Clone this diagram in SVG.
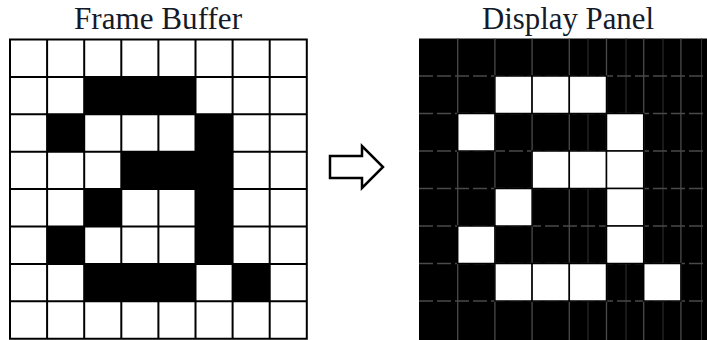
<svg xmlns="http://www.w3.org/2000/svg" width="707" height="340" viewBox="0 0 707 340">
<style>
.title{font-family:"Liberation Serif","Times New Roman",serif;font-size:31px;fill:#141a2a;text-anchor:middle}
.blk{fill:#000}
.wht{fill:#fff;stroke:#000;stroke-width:1.5}
.grid{stroke:#000;stroke-width:2;fill:none}
.gv{stroke:#4a4a4a;stroke-width:1.3}
.gh{stroke:#4a4a4a;stroke-width:1.3;stroke-dasharray:14 4}
.gm{stroke:#333;stroke-width:1}
</style>
<rect width="707" height="340" fill="#fff"/>
<g id="title-frame-buffer"><text class="title" x="158" y="29" textLength="168" lengthAdjust="spacingAndGlyphs">Frame Buffer</text></g>
<g id="title-display-panel"><text class="title" x="568" y="29" textLength="172" lengthAdjust="spacingAndGlyphs">Display Panel</text></g>

<g id="frame-buffer">
<rect class="blk" x="84.2" y="76.9" width="111.3" height="37.4"/>
<rect class="blk" x="47.1" y="114.3" width="37.1" height="37.4"/>
<rect class="blk" x="195.5" y="114.3" width="37.1" height="37.4"/>
<rect class="blk" x="121.3" y="151.7" width="111.3" height="37.4"/>
<rect class="blk" x="84.2" y="189.1" width="37.1" height="37.4"/>
<rect class="blk" x="195.5" y="189.1" width="37.1" height="37.4"/>
<rect class="blk" x="47.1" y="226.5" width="37.1" height="37.4"/>
<rect class="blk" x="195.5" y="226.5" width="37.1" height="37.4"/>
<rect class="blk" x="84.2" y="263.9" width="111.3" height="37.4"/>
<rect class="blk" x="232.6" y="263.9" width="37.1" height="37.4"/>
<path class="grid" d="M10 39.5H306.8V338.7H10Z M47.1 39.5V338.7 M84.2 39.5V338.7 M121.3 39.5V338.7 M158.4 39.5V338.7 M195.5 39.5V338.7 M232.6 39.5V338.7 M269.7 39.5V338.7 M10 76.9H306.8 M10 114.3H306.8 M10 151.7H306.8 M10 189.1H306.8 M10 226.5H306.8 M10 263.9H306.8 M10 301.3H306.8"/>
</g>

<g id="connectors">
<polygon points="330,156 362,156 362,146 383,167 362,188 362,178 330,178" fill="#fff" stroke="#000" stroke-width="2.5" stroke-linejoin="miter"/>
</g>

<g id="display-panel">
<rect class="blk" x="419" y="38.5" width="288" height="301.5"/>
<path class="gv" d="M457.7 38.5V340 M494.9 38.5V340 M532.1 38.5V340 M569.3 38.5V340 M606.5 38.5V340 M643.7 38.5V340 M680.9 38.5V340"/>
<path class="gm" d="M588 38.5V340 M626 38.5V340 M663 38.5V340 M701.5 38.5V340"/>
<path class="gh" d="M419 76H707 M419 113.5H707 M419 151H707 M419 188.5H707 M419 226H707 M419 263.5H707 M419 301H707"/>
<rect class="wht" x="494.9" y="76" width="37.2" height="37.5"/>
<rect class="wht" x="532.1" y="76" width="37.2" height="37.5"/>
<rect class="wht" x="569.3" y="76" width="37.2" height="37.5"/>
<rect class="wht" x="457.7" y="113.5" width="37.2" height="37.5"/>
<rect class="wht" x="606.5" y="113.5" width="37.2" height="37.5"/>
<rect class="wht" x="532.1" y="151" width="37.2" height="37.5"/>
<rect class="wht" x="569.3" y="151" width="37.2" height="37.5"/>
<rect class="wht" x="606.5" y="151" width="37.2" height="37.5"/>
<rect class="wht" x="494.9" y="188.5" width="37.2" height="37.5"/>
<rect class="wht" x="606.5" y="188.5" width="37.2" height="37.5"/>
<rect class="wht" x="457.7" y="226" width="37.2" height="37.5"/>
<rect class="wht" x="606.5" y="226" width="37.2" height="37.5"/>
<rect class="wht" x="494.9" y="263.5" width="37.2" height="37.5"/>
<rect class="wht" x="532.1" y="263.5" width="37.2" height="37.5"/>
<rect class="wht" x="569.3" y="263.5" width="37.2" height="37.5"/>
<rect class="wht" x="643.7" y="263.5" width="37.2" height="37.5"/>
</g>
</svg>
